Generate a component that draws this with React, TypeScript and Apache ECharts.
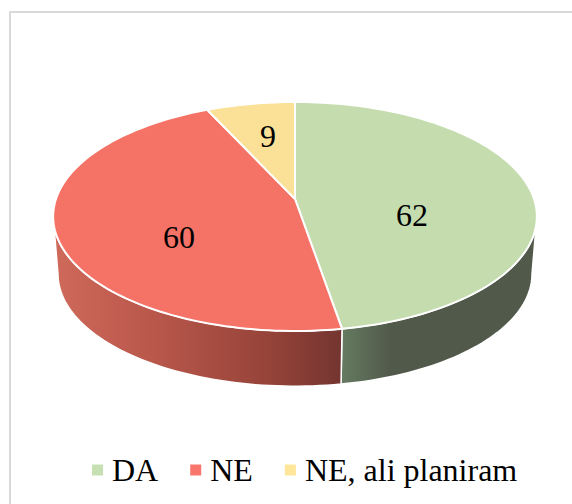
import React, { useEffect, useRef } from "react";
import * as echarts from "echarts";

const categories = ["DA", "NE", "NE, ali planiram"];
const values = [62, 60, 9];
const legendColors = ["#c6e0b4", "#f8766b", "#ffe699"];
const topColors = ["#c4dcae", "#f57266", "#fbe198"];
const labelPositions = [[412, 215], [179, 237], [268, 136]];

const WIDTH = 572;
const HEIGHT = 504;
const SERIF = "'Liberation Serif', 'Times New Roman', serif";
const CX = 295;
const CY = 216.5;
const RX = 239;
const RY = 114.5;
const APEX_SHIFT = 17.5;
const K = -0.1528;
const WALL_DROP = 57.5;
const WALL_SCALE = 0.98;
const TOTAL = values.reduce((a, b) => a + b, 0);

function project(deg: number, r = 1) {
  const t = (deg * Math.PI) / 180;
  const X = r * Math.sin(t);
  const Y = -r * Math.cos(t);
  const w = 1 + K * Y;
  return [(RX * X) / w, (RY * Y - APEX_SHIFT) / w];
}

function topPoint(deg: number) {
  const [x, y] = project(deg);
  return [CX + x, CY + y];
}

function bottomPoint(deg: number) {
  const [x, y] = project(deg);
  return [CX + WALL_SCALE * x, CY + WALL_DROP + WALL_SCALE * y];
}

function arc(from: number, to: number, fn: (d: number) => number[]) {
  const n = Math.max(2, Math.ceil(Math.abs(to - from) / 1.5));
  const pts: number[][] = [];
  for (let i = 0; i <= n; i++) pts.push(fn(from + ((to - from) * i) / n));
  return pts;
}

const tangent = (Math.acos(K) * 180) / Math.PI;
const VIS_START = tangent;
const VIS_END = 360 - tangent;

function wallFill(index: number) {
  if (index === 0) {
    return new echarts.graphic.LinearGradient(341, 0, 392, 0, [
      { offset: 0, color: "#657b60" },
      { offset: 1, color: "#50594a" },
    ], true);
  }
  return new echarts.graphic.LinearGradient(53, 0, 341, 0, [
    { offset: 0, color: "#cf6a5b" },
    { offset: 0.35, color: "#b9574b" },
    { offset: 0.75, color: "#964339" },
    { offset: 1, color: "#743530" },
  ], true);
}

function makeRender(index: number) {
  return (_params: any, api: any) => {
    const before = values.slice(0, index).reduce((a, b) => a + b, 0);
    const start = (before / TOTAL) * 360;
    const end = start + (api.value(0) / TOTAL) * 360;
    const children: any[] = [];
    const a = Math.max(start, VIS_START);
    const b = Math.min(end, VIS_END);
    if (b > a) {
      children.push({
        type: "polygon",
        shape: {
          points: [...arc(a, b, topPoint), ...arc(b, a, bottomPoint)],
        },
        style: { fill: wallFill(index), stroke: "#ffffff", lineWidth: 1.5 },
      });
    }
    const apex = [CX + project(0, 0)[0], CY + project(0, 0)[1]];
    children.push({
      type: "polygon",
      shape: { points: [apex, ...arc(start, end, topPoint)] },
      style: { fill: topColors[index], stroke: "#ffffff", lineWidth: 2 },
    });
    const [lx, ly] = labelPositions[index];
    children.push({
      type: "text",
      z2: 10,
      style: {
        x: lx,
        y: ly,
        text: String(api.value(0)),
        fill: "#000000",
        fontFamily: SERIF,
        fontSize: 32,
        align: "center",
        textAlign: "center",
        verticalAlign: "middle",
      },
    });
    return { type: "group", children };
  };
}

export default function App() {
  const ref = useRef<HTMLDivElement>(null);
  useEffect(() => {
    document.body.style.margin = "0";
    const chart = echarts.init(ref.current!, undefined, { renderer: "svg" });
    chart.setOption({
      animation: false,
      backgroundColor: "#ffffff",
      legend: {
        left: 87,
        top: 449,
        itemWidth: 11,
        itemHeight: 11,
        itemGap: 32,
        icon: "rect",
        selectedMode: false,
        data: categories,
        textStyle: {
          fontFamily: SERIF,
          fontSize: 32,
          color: "#000000",
          padding: [0, 0, 3, 4],
        },
      },
      graphic: [
        {
          type: "rect",
          shape: { x: 10, y: 12, width: 700, height: 700 },
          style: { fill: "none", stroke: "#d9d9d9", lineWidth: 2 },
          silent: true,
        },
      ],
      series: categories.map((name, i) => ({
        type: "custom",
        name,
        coordinateSystem: "none",
        silent: true,
        itemStyle: { color: legendColors[i] },
        data: [[values[i]]],
        renderItem: makeRender(i),
      })),
    });
    return () => chart.dispose();
  }, []);
  return (
    <div
      ref={ref}
      style={{ position: "fixed", left: 0, top: 0, width: WIDTH, height: HEIGHT }}
    />
  );
}
